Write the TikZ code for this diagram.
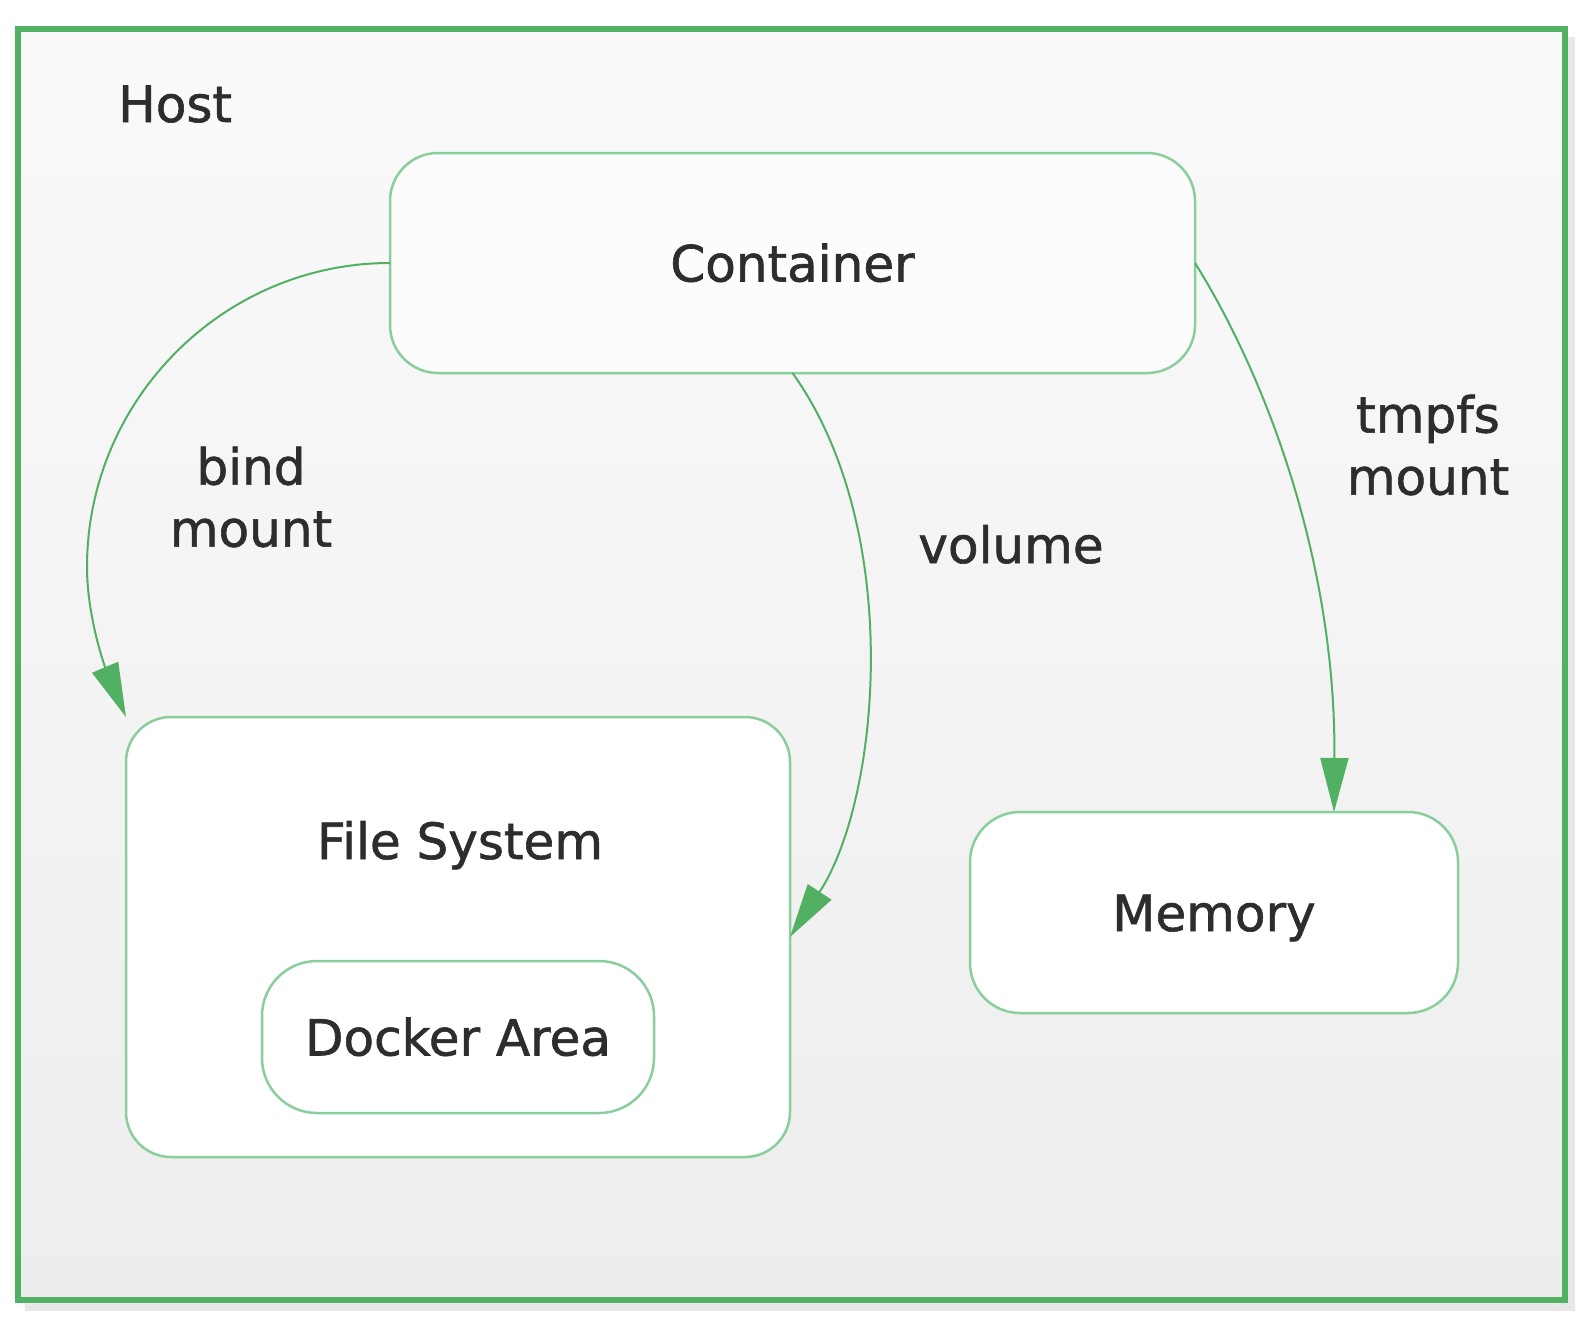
\documentclass[tikz,border=0pt]{standalone}
\usepackage{fontspec}
\setmainfont{DejaVu Sans}[BoldFont={DejaVu Sans}, BoldFeatures={FakeBold=1.2}]
\usetikzlibrary{arrows.meta}
\definecolor{hostgreen}{RGB}{82,176,98}
\definecolor{nodegreen}{RGB}{138,206,158}
\definecolor{linegreen}{RGB}{82,176,98}
\definecolor{txt}{RGB}{45,45,45}
\definecolor{bgtop}{RGB}{250,250,250}
\definecolor{bgbot}{RGB}{237,237,237}
\definecolor{shadowc}{RGB}{232,232,232}
\begin{document}
\begin{tikzpicture}[x=1pt,y=-1pt,
  every node/.style={text=txt, font=\fontsize{50}{62}\selectfont\bfseries},
  box/.style={draw=nodegreen, line width=2.5pt, fill=white, rounded corners=#1,
    inner sep=0pt, outer sep=0pt, text height=37pt, text depth=0pt},
  box/.default=48pt,
  lbl/.style={align=center, inner sep=0pt},
  conn/.style={draw=linegreen, line width=2pt, -{Triangle[length=54pt,width=28pt]}}
]
\useasboundingbox (0,0) rectangle (1590,1330);
\fill[white] (0,0) rectangle (1590,1330);
\fill[shadowc] (25,37) rectangle (1575,1311);
\node[draw=hostgreen, line width=6pt, top color=bgtop, bottom color=bgbot,
  minimum width=1547.5pt, minimum height=1271pt, inner sep=0pt, outer sep=0pt]
  (host) at (791.25,664.5) {};
\node[anchor=base west, inner sep=0pt] (hostlabel) at (118,122) {Host};

\node[box, fill=white!40!bgtop, minimum width=805pt, minimum height=220pt] (container) at (792.5,263) {Container};
\node[box=45pt, minimum width=664pt, minimum height=440pt] (fs) at (458,937) {};
\node[anchor=base, inner sep=0pt] (fslabel) at (460,859) {File System};
\node[box=55pt, minimum width=392pt, minimum height=152pt] (docker) at (458,1037) {Docker Area};
\node[box=50pt, minimum width=488pt, minimum height=201pt] (memory) at (1214,912.5) {Memory};

\node[lbl] (bindlbl) at (251,497) {bind\\mount};
\node[anchor=base, inner sep=0pt] (vollbl) at (1011,563) {volume};
\node[lbl] (tmpfslbl) at (1428,445) {tmpfs\\mount};

\coordinate (memin) at (1334,812);
\draw[conn] (container.west) .. controls (223,263) and (87,400) .. (87,567)
  .. controls (87,617) and (105,667) .. (fs.north west);
\draw[conn] (container.south) .. controls (905,530) and (880,800) .. (fs.east);
\draw[conn] (container.east) .. controls (1265,375) and (1336,560) .. (memin);
\end{tikzpicture}
\end{document}
